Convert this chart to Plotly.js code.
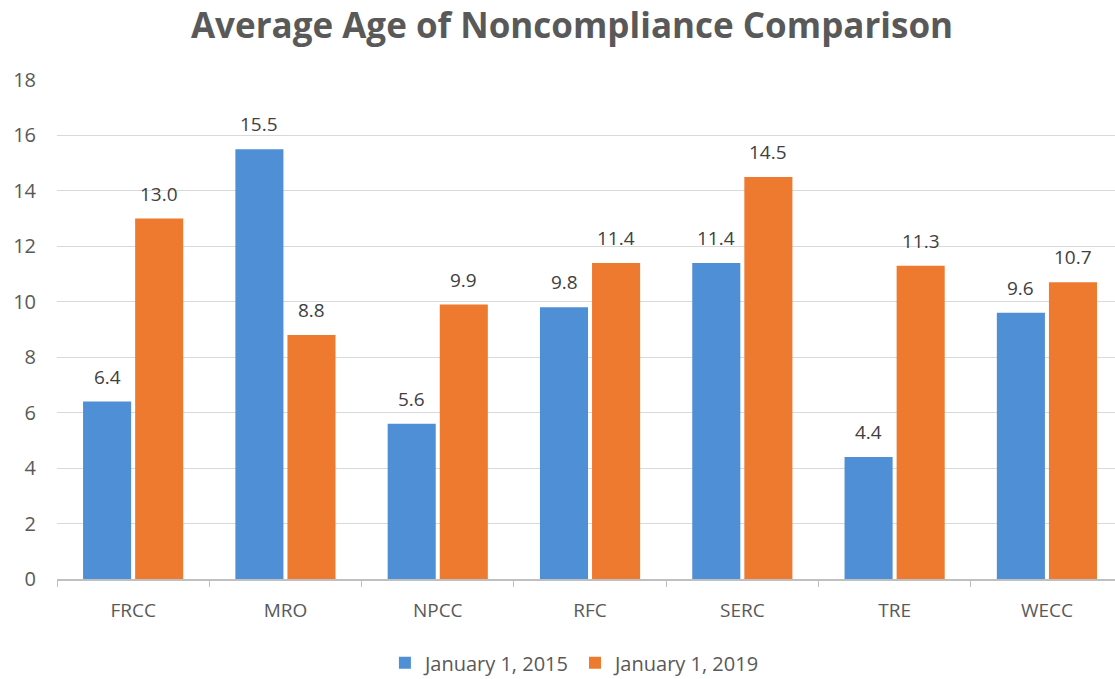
<!DOCTYPE html>
<html>
<head>
<meta charset="utf-8">
<script src="https://cdn.plot.ly/plotly-3.0.1.min.js"></script>
<style>html,body{margin:0;padding:0;background:#fff;}#chart{width:1115px;height:679px;}</style>
</head>
<body>
<div id="chart"></div>
<script>
const categories = ["FRCC", "MRO", "NPCC", "RFC", "SERC", "TRE", "WECC"];
const seriesNames = ["January 1, 2015", "January 1, 2019"];
const values2015 = [6.4, 15.5, 5.6, 9.8, 11.4, 4.4, 9.6];
const values2019 = [13.0, 8.8, 9.9, 11.4, 14.5, 11.3, 10.7];
const yTicks = [0, 2, 4, 6, 8, 10, 12, 14, 16, 18];

const font = "Open Sans, Liberation Sans, sans-serif";
const colors = ["#4f8fd5", "#ee7a2f"];

const traces = [values2015, values2019].map((vals, i) => ({
  type: "bar",
  name: seriesNames[i],
  x: categories,
  y: vals,
  marker: { color: colors[i], line: { width: 0 } },
  hoverinfo: "skip"
}));

const annotations = [];
[values2015, values2019].forEach((vals, i) => {
  vals.forEach((v, j) => {
    annotations.push({
      x: categories[j], y: v, xref: "x", yref: "y",
      text: v.toFixed(1), showarrow: false,
      xanchor: "center", yanchor: "bottom",
      xshift: i === 0 ? -26 : 26, yshift: 10,
      font: { family: font, size: 19, color: "#404040" }
    });
  });
});

const layout = {
  width: 1115, height: 679,
  paper_bgcolor: "#ffffff", plot_bgcolor: "#ffffff",
  margin: { l: 57, r: 0, t: 80, b: 100, autoexpand: false },
  title: {
    text: "<b>Average Age of Noncompliance Comparison</b>",
    font: { family: font, size: 35, color: "#595959" },
    x: 0.513, xanchor: "center", y: 0.962, yanchor: "middle"
  },
  barmode: "group",
  bargap: 0.316,
  bargroupgap: 0.077,
  xaxis: {
    type: "category",
    range: [-0.5, 6.447],
    automargin: false,
    showgrid: false,
    showline: true, linecolor: "#bfbfbf", linewidth: 1.5,
    ticks: "outside", tickson: "boundaries", ticklen: 6, tickcolor: "#bfbfbf",
    tickfont: { family: font, size: 19, color: "#595959" },
    ticklabelstandoff: 14,
    zeroline: false, fixedrange: true
  },
  yaxis: {
    range: [0, 18],
    automargin: false,
    tickvals: yTicks,
    showgrid: true, gridcolor: "#d9d9d9", gridwidth: 1,
    zeroline: false, showline: false,
    tickfont: { family: font, size: 20, color: "#595959" },
    ticklabelstandoff: 20,
    fixedrange: true
  },
  legend: {
    orientation: "h", x: 0.49, xanchor: "center",
    yref: "container", y: 0.024, yanchor: "middle",
    font: { family: font, size: 20, color: "#595959" },
    itemwidth: 30, traceorder: "normal"
  },
  annotations: annotations,
  showlegend: true
};

Plotly.newPlot("chart", traces, layout, { displayModeBar: false, staticPlot: true });
</script>
</body>
</html>
